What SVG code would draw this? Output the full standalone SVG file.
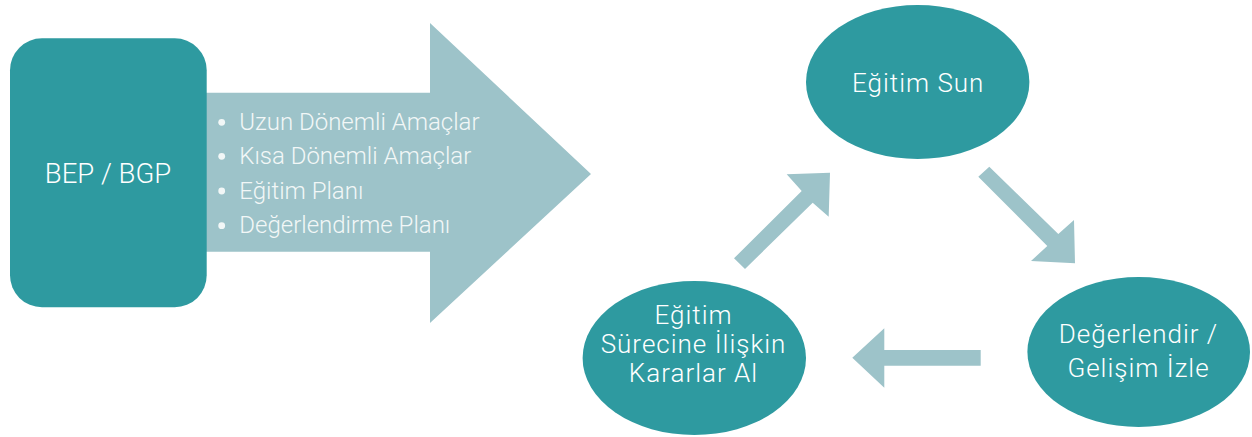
<svg xmlns="http://www.w3.org/2000/svg" width="1252" height="437" viewBox="0 0 1252 437">
  <style>
    .dark { fill: #2E9AA0; }
    .light { fill: #9DC3C9; }
    .t { font-family: Roboto, "Liberation Sans", Arial, sans-serif; fill: #FFFFFF; text-anchor: middle; font-weight: 300; }
    .e { font-size: 26px; letter-spacing: 1px; }
    .b { font-family: Roboto, "Liberation Sans", Arial, sans-serif; fill: #F2F7F7; font-weight: 300; font-size: 24px; }
  </style>
  <rect width="1252" height="437" fill="#FFFFFF"/>
  <g id="connectors">
    <polygon class="light" points="200,92.7 430,92.7 430,23 591,174 430,323 430,251.7 200,251.7"/>
    <polygon class="light" points="734,258.3 801.7,191 786.7,174.3 830,172.7 828.7,216.7 812.7,202.7 745,269"/>
    <polygon class="light" points="978.3,176.7 989.3,166.7 1058.3,234 1074,220 1075,263.3 1031,261 1047.3,246"/>
    <polygon class="light" points="980.7,350 884.3,350 884.3,328.3 852.3,357.7 884.3,387.7 884.3,365.7 980.7,365.7"/>
  </g>
  <g id="bep">
    <rect class="dark" x="10" y="38.3" width="196.7" height="269" rx="32" ry="32"/>
    <text class="t" x="108" y="183.3" font-size="27.5">BEP / BGP</text>
  </g>
  <g id="list">
    <circle cx="221.7" cy="122.3" r="3.4" fill="#F2F7F7"/>
    <circle cx="221.7" cy="156.3" r="3.4" fill="#F2F7F7"/>
    <circle cx="221.7" cy="191" r="3.4" fill="#F2F7F7"/>
    <circle cx="221.7" cy="225.7" r="3.4" fill="#F2F7F7"/>
    <text class="b" x="239.3" y="130">Uzun Dönemli Amaçlar</text>
    <text class="b" x="239.3" y="164">Kısa Dönemli Amaçlar</text>
    <text class="b" x="239.3" y="198.5">Eğitim Planı</text>
    <text class="b" x="239.3" y="233.3">Değerlendirme Planı</text>
  </g>
  <g id="egitim-sun">
    <ellipse class="dark" cx="917.7" cy="82" rx="111.7" ry="77"/>
    <text class="t e" x="918.2" y="91.7">Eğitim Sun</text>
  </g>
  <g id="degerlendir">
    <ellipse class="dark" cx="1138.7" cy="352" rx="111.3" ry="75"/>
    <text class="t e" x="1138.5" y="342.7">Değerlendir /</text>
    <text class="t e" x="1138.5" y="376.7">Gelişim İzle</text>
  </g>
  <g id="karar">
    <ellipse class="dark" cx="694.3" cy="358" rx="111.7" ry="77"/>
    <text class="t e" x="693.5" y="324.3">Eğitim</text>
    <text class="t e" x="693.5" y="352.7">Sürecine İlişkin</text>
    <text class="t e" x="693.5" y="381.7">Kararlar Al</text>
  </g>
</svg>
